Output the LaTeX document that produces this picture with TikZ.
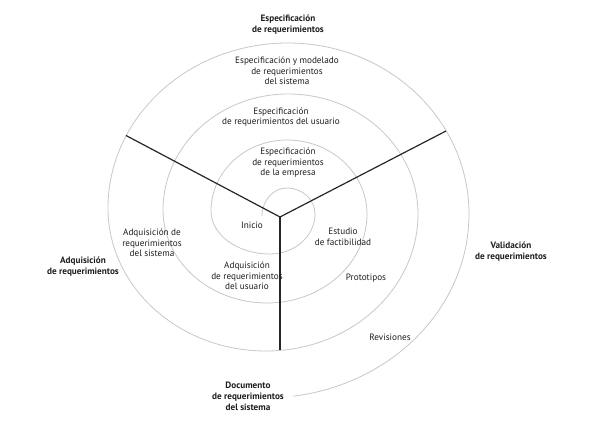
\documentclass[tikz,border=0pt]{standalone}
\usepackage{fontspec}
\setmainfont{PT Sans}
\definecolor{spiralgray}{RGB}{200,200,200}
\definecolor{txt}{RGB}{30,30,30}
\tikzset{
  lab/.style={font=\fontsize{9.2}{10.6}\selectfont, align=center, text=txt, inner sep=0pt},
  phase/.style={font=\bfseries\fontsize{9.2}{10.8}\selectfont, align=center, text=txt, inner sep=0pt},
  spiral/.style={draw=spiralgray, line width=0.8pt},
  axisline/.style={draw=black!85, line width=1.2pt}
}
\begin{document}
\begin{tikzpicture}[x=1pt,y=-1pt]
\path[use as bounding box, fill=white] (0,0) rectangle (592,427);
% spiral
\path[spiral] (262,216)
  arc[start angle=180, end angle=270, x radius=25, y radius=28]
  arc[start angle=270, end angle=360, x radius=28, y radius=26]
  arc[start angle=0, end angle=90, x radius=45, y radius=40]
  arc[start angle=90, end angle=180, x radius=59, y radius=43]
  arc[start angle=180, end angle=270, x radius=76, y radius=71]
  arc[start angle=270, end angle=360, x radius=80, y radius=74]
  arc[start angle=0, end angle=90, x radius=100, y radius=89]
  arc[start angle=90, end angle=180, x radius=104, y radius=93]
  arc[start angle=180, end angle=270, x radius=125, y radius=116]
  arc[start angle=270, end angle=360, x radius=130, y radius=120]
  arc[start angle=0, end angle=90, x radius=152, y radius=137]
  arc[start angle=90, end angle=180, x radius=158, y radius=143]
  arc[start angle=180, end angle=270, x radius=180, y radius=165]
  arc[start angle=270, end angle=360, x radius=181, y radius=171]
  arc[start angle=0, end angle=82, x radius=204, y radius=184];
% axes
\coordinate (c) at (280,217);
\coordinate (lend) at (126,135.5);
\coordinate (rend) at (446,131);
\coordinate (dend) at (280,350);
\draw[axisline] (lend) -- (c) -- (rend);
\draw[axisline] (c) -- (dend);
% phase labels
\node[phase] (espec) at (288,25) {Especificación\\de requerimientos};
\node[phase] (adq) at (83,267) {Adquisición\\de requerimientos};
\node[phase] (valid) at (511,252) {Validación\\de requerimientos};
\node[phase] (doc) at (248,396) {Documento\\de requerimientos\\del sistema};
% activity labels
\node[lab] (esm) at (287,71) {Especificación y modelado\\de requerimientos\\del sistema};
\node[lab] (esu) at (281,117) {Especificación\\de requerimientos del usuario};
\node[lab] (ese) at (288,163) {Especificación\\de requerimientos\\de la empresa};
\node[lab] (ini) at (252,225) {Inicio};
\node[lab] (est) at (343,237) {Estudio\\de factibilidad};
\node[lab] (aru) at (247,276) {Adquisición\\de requerimientos\\del usuario};
\node[lab] (proto) at (366,278) {Prototipos};
\node[lab] (rev) at (390,337) {Revisiones};
\node[lab] (ars) at (152,243) {Adquisición de\\requerimientos\\del sistema};
\end{tikzpicture}
\end{document}
